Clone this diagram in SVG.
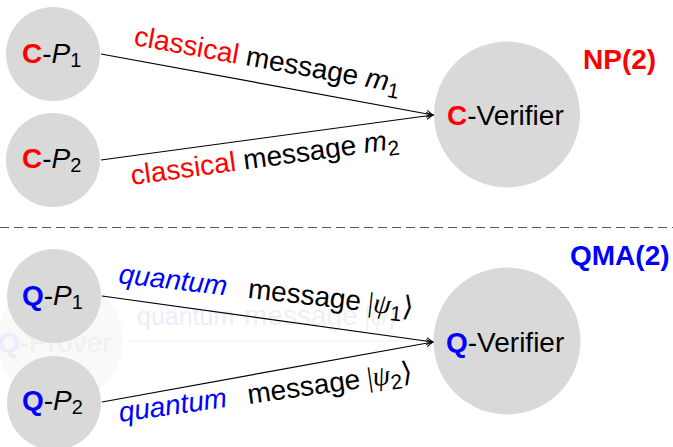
<svg xmlns="http://www.w3.org/2000/svg" width="673" height="447" viewBox="0 0 673 447">
<defs>
<style>
text{font-family:"Liberation Sans",Arial,sans-serif;font-size:28px;fill:#000}
.nd{fill:#d9d9d9}
.red{fill:#ff0000}
.blue{fill:#0000ff}
.b{font-weight:bold}
.it{font-style:italic}
.ser{font-family:"Liberation Serif","DejaVu Serif",serif}
.conn line{stroke:#000;stroke-width:1.2;fill:none;marker-end:url(#arr)}
.ghost{fill:#f0f0f0}
.ghostb{fill:#ececfc}
</style>
<marker id="arr" viewBox="-8 -5 10 10" refX="0" refY="0" markerWidth="10" markerHeight="10" markerUnits="userSpaceOnUse" orient="auto">
<path d="M-6.5,-3.5 Q-2.5,-1 0,0 Q-2.5,1 -6.5,3.5" fill="none" stroke="#000" stroke-width="1.1"/>
</marker>
</defs>
<rect width="673" height="447" fill="#fff"/>

<g id="ghost">
<circle cx="60" cy="340" r="63" fill="#f9f9f9"/>
<line x1="128" y1="341" x2="432" y2="341" stroke="#f0f0f0" stroke-width="1.2"/>
<text x="-2" y="352"><tspan class="ghostb b">Q</tspan><tspan class="ghost">-Prover</tspan></text>
<text x="137" y="325"><tspan class="ghostb" font-size="25">quantum</tspan><tspan class="ghost" x="244">message</tspan><tspan class="ghost ser"> |<tspan class="it">ψ</tspan>⟩</tspan></text>
</g>

<g id="separator">
<line x1="0" y1="227.5" x2="673" y2="227.5" stroke="#555" stroke-width="1" stroke-dasharray="9,5"/>
</g>

<g id="connectors" class="conn">
<line x1="101" y1="54" x2="433" y2="115"/>
<line x1="101" y1="160" x2="433" y2="115"/>
<line x1="102" y1="296" x2="433" y2="342"/>
<line x1="102" y1="402" x2="433" y2="342"/>
</g>

<g id="label-c1">
<text transform="translate(133,45) rotate(10.2)"><tspan class="red">classical</tspan> message <tspan class="it">m</tspan><tspan font-size="21" dy="6">1</tspan></text>
</g>
<g id="label-c2">
<text transform="translate(132,185) rotate(-7.8)"><tspan class="red">classical</tspan> message <tspan class="it">m</tspan><tspan font-size="21" dy="6">2</tspan></text>
</g>
<g id="label-q1">
<text transform="translate(118,283) rotate(6.5)"><tspan class="blue it">quantum</tspan><tspan x="130">message</tspan><tspan class="ser"> |<tspan class="it">ψ</tspan></tspan><tspan font-size="21" dy="6">1</tspan><tspan class="ser" dy="-6">⟩</tspan></text>
</g>
<g id="label-q2">
<text transform="translate(120,422) rotate(-8)"><tspan class="blue it">quantum</tspan><tspan x="130">message</tspan><tspan class="ser"> |<tspan class="it">ψ</tspan></tspan><tspan font-size="21" dy="6">2</tspan><tspan class="ser" dy="-6">⟩</tspan></text>
</g>

<g id="node-cp1">
<circle class="nd" cx="53" cy="54" r="47"/>
<text x="22" y="63" font-size="26"><tspan class="red b">C</tspan>-<tspan class="it">P</tspan><tspan font-size="20" dy="4">1</tspan></text>
</g>
<g id="node-cp2">
<circle class="nd" cx="53" cy="160" r="47"/>
<text x="22" y="168" font-size="26"><tspan class="red b">C</tspan>-<tspan class="it">P</tspan><tspan font-size="20" dy="4">2</tspan></text>
</g>
<g id="node-cver">
<circle class="nd" cx="507" cy="114.5" r="73"/>
<text x="447" y="125"><tspan class="red b">C</tspan>-Verifier</text>
</g>
<g id="node-qp1">
<circle class="nd" cx="54" cy="296" r="47"/>
<text x="22" y="305" font-size="26"><tspan class="blue b">Q</tspan>-<tspan class="it">P</tspan><tspan font-size="20" dy="4">1</tspan></text>
</g>
<g id="node-qp2">
<circle class="nd" cx="54" cy="403" r="47"/>
<text x="22" y="410" font-size="26"><tspan class="blue b">Q</tspan>-<tspan class="it">P</tspan><tspan font-size="20" dy="4">2</tspan></text>
</g>
<g id="node-qver">
<circle class="nd" cx="507" cy="341" r="73.5"/>
<text x="446" y="352"><tspan class="blue b">Q</tspan>-Verifier</text>
</g>

<g id="class-labels">
<text x="583" y="69" class="red b">NP(2)</text>
<text x="570" y="265" class="blue b">QMA(2)</text>
</g>
</svg>
